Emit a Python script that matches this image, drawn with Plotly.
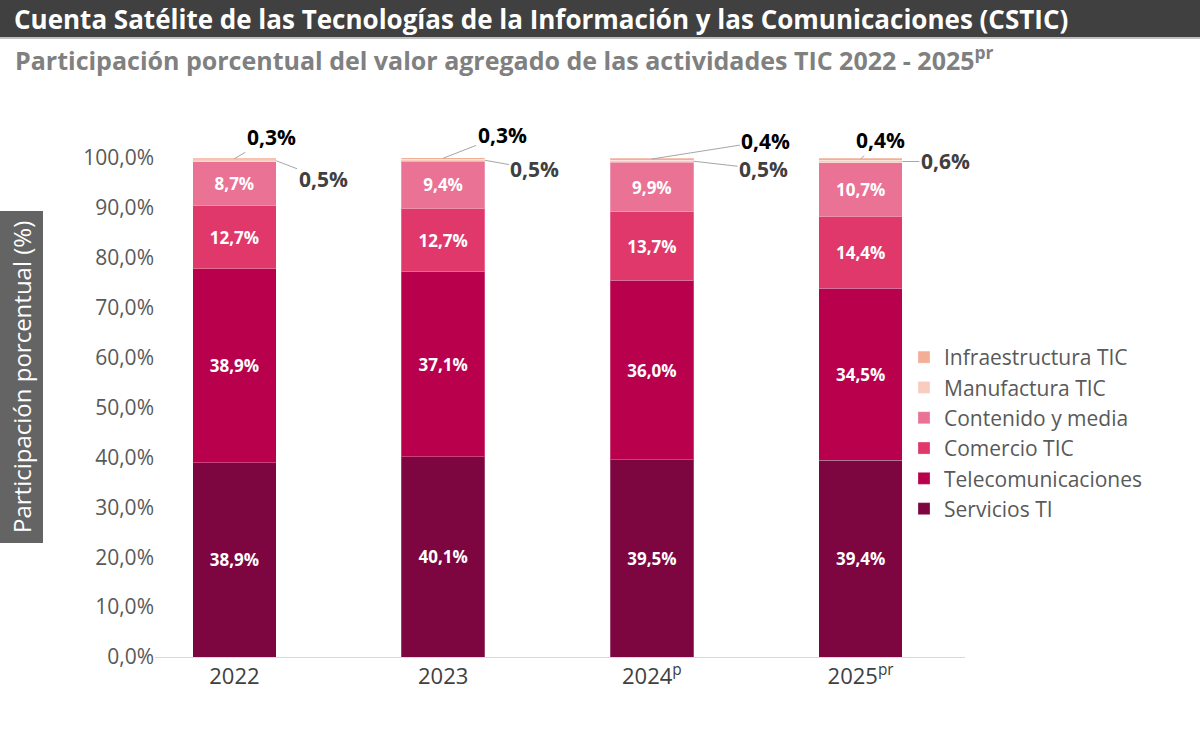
import plotly.graph_objects as go

years = ["2022", "2023", "2024<sup>p</sup>", "2025<sup>pr</sup>"]
servicios_ti = [38.9, 40.1, 39.5, 39.4]
telecomunicaciones = [38.9, 37.1, 36.0, 34.5]
comercio_tic = [12.7, 12.7, 13.7, 14.4]
contenido_media = [8.7, 9.4, 9.9, 10.7]
manufactura_tic = [0.5, 0.5, 0.5, 0.6]
infraestructura_tic = [0.3, 0.3, 0.4, 0.4]

y_ticks = [0, 10, 20, 30, 40, 50, 60, 70, 80, 90, 100]
y_ticktext = ["0,0%", "10,0%", "20,0%", "30,0%", "40,0%", "50,0%", "60,0%", "70,0%", "80,0%", "90,0%", "100,0%"]

FONT = "Open Sans"
W, H = 1200, 749
L, R, T, B = 155, 235, 158, 92
PW, PH = W - L - R, H - T - B


def px(xpix):
    return (xpix - L) / PW


def py(ypix):
    return (H - B - ypix) / PH


def fmt(v):
    return f"{v:.1f}".replace(".", ",") + "%"


series = [
    ("Servicios TI", servicios_ti, "#7D0540", True),
    ("Telecomunicaciones", telecomunicaciones, "#B8004D", True),
    ("Comercio TIC", comercio_tic, "#E0386B", True),
    ("Contenido y media", contenido_media, "#E97295", True),
    ("Manufactura TIC", manufactura_tic, "#F8CDBF", False),
    ("Infraestructura TIC", infraestructura_tic, "#F3AE98", False),
]

fig = go.Figure()
xs = list(range(len(years)))
for name, vals, color, show in series:
    fig.add_trace(go.Bar(
        x=xs, y=vals, name=name,
        marker=dict(color=color, line=dict(color="rgba(255,255,255,0.25)", width=1)),
        width=0.4,
        text=[fmt(v) for v in vals] if show else None,
        textposition="inside" if show else "none",
        insidetextanchor="middle",
        textangle=0,
        constraintext="none",
        textfont=dict(family=FONT, size=17, color="white", weight="bold"),
        hoverinfo="skip",
    ))

annotations = []
# small-segment call-out labels (offsets in pixels)
top_offsets = [(37, -22), (59, -23), (114, -18), (20, -19)]
right_offsets = [(47, 18), (50, 9), (70, 8), (43, 0)]
for i in xs:
    base_manu = servicios_ti[i] + telecomunicaciones[i] + comercio_tic[i] + contenido_media[i]
    base_infra = base_manu + manufactura_tic[i]
    ax, ay = top_offsets[i]
    annotations.append(dict(
        x=i, y=base_infra + infraestructura_tic[i] / 2, xref="x", yref="y", text=fmt(infraestructura_tic[i]),
        showarrow=True, arrowhead=0, arrowwidth=1, arrowcolor="#A6A6A6", standoff=0,
        ax=ax, ay=ay, font=dict(family=FONT, size=21, color="#000000", weight="bold"),
    ))
    ax, ay = right_offsets[i]
    annotations.append(dict(
        x=i + 0.2, y=base_manu + manufactura_tic[i] / 2, xref="x", yref="y", text=fmt(manufactura_tic[i]),
        showarrow=True, arrowhead=0, arrowwidth=1, arrowcolor="#A6A6A6", standoff=0,
        ax=ax, ay=ay, font=dict(family=FONT, size=21, color="#404040", weight="bold"),
    ))

# title bar texts
annotations.append(dict(
    x=px(12), y=py(19), xref="paper", yref="paper", xanchor="left", yanchor="middle",
    text="Cuenta Satélite de las Tecnologías de la Información y las Comunicaciones (CSTIC)",
    showarrow=False, font=dict(family=FONT, size=26, color="white", weight="bold"),
))
annotations.append(dict(
    x=px(13), y=py(58), xref="paper", yref="paper", xanchor="left", yanchor="middle",
    text="Participación porcentual del valor agregado de las actividades TIC 2022 - 2025<sup>pr</sup>",
    showarrow=False, font=dict(family=FONT, size=25, color="#808080", weight="bold"),
))
# y-axis title
annotations.append(dict(
    x=px(21), y=py(377), xref="paper", yref="paper", xanchor="center", yanchor="middle",
    text="Participación porcentual (%)", textangle=-90,
    showarrow=False, font=dict(family=FONT, size=24, color="white"),
))

shapes = [
    dict(type="rect", xref="paper", yref="paper", x0=px(0), x1=px(W), y0=py(37), y1=py(0),
         fillcolor="#404040", line=dict(width=0), layer="below"),
    dict(type="rect", xref="paper", yref="paper", x0=px(0), x1=px(W), y0=py(39), y1=py(37),
         fillcolor="#BFBFBF", line=dict(width=0), layer="below"),
    dict(type="rect", xref="paper", yref="paper", x0=px(0), x1=px(43), y0=py(543), y1=py(211),
         fillcolor="#646464", line=dict(width=0), layer="below"),
]

x_lo = -0.5 + (L - 130) / 208.75

fig.update_layout(
    width=W, height=H,
    margin=dict(l=L, r=R, t=T, b=B),
    paper_bgcolor="white", plot_bgcolor="white",
    barmode="stack",
    font=dict(family=FONT),
    showlegend=True,
    legend=dict(
        x=px(904), y=py(337), xanchor="left", yanchor="top",
        traceorder="reversed",
        font=dict(family=FONT, size=21, color="#595959"),
        itemwidth=30, tracegroupgap=0,
        bgcolor="rgba(0,0,0,0)",
    ),
    xaxis=dict(
        range=[x_lo, 3.5], tickmode="array", tickvals=xs, ticktext=years,
        showline=True, linecolor="#D9D9D9", linewidth=1, showgrid=False, ticks="",
        tickfont=dict(family=FONT, size=22, color="#404040"), fixedrange=True,
    ),
    yaxis=dict(
        range=[0, 100], tickmode="array", tickvals=y_ticks, ticktext=y_ticktext,
        showgrid=False, zeroline=False, showline=False, ticks="",
        tickfont=dict(family=FONT, size=21, color="#595959"), fixedrange=True,
    ),
    annotations=annotations,
    shapes=shapes,
)

fig.write_html("out.html")
